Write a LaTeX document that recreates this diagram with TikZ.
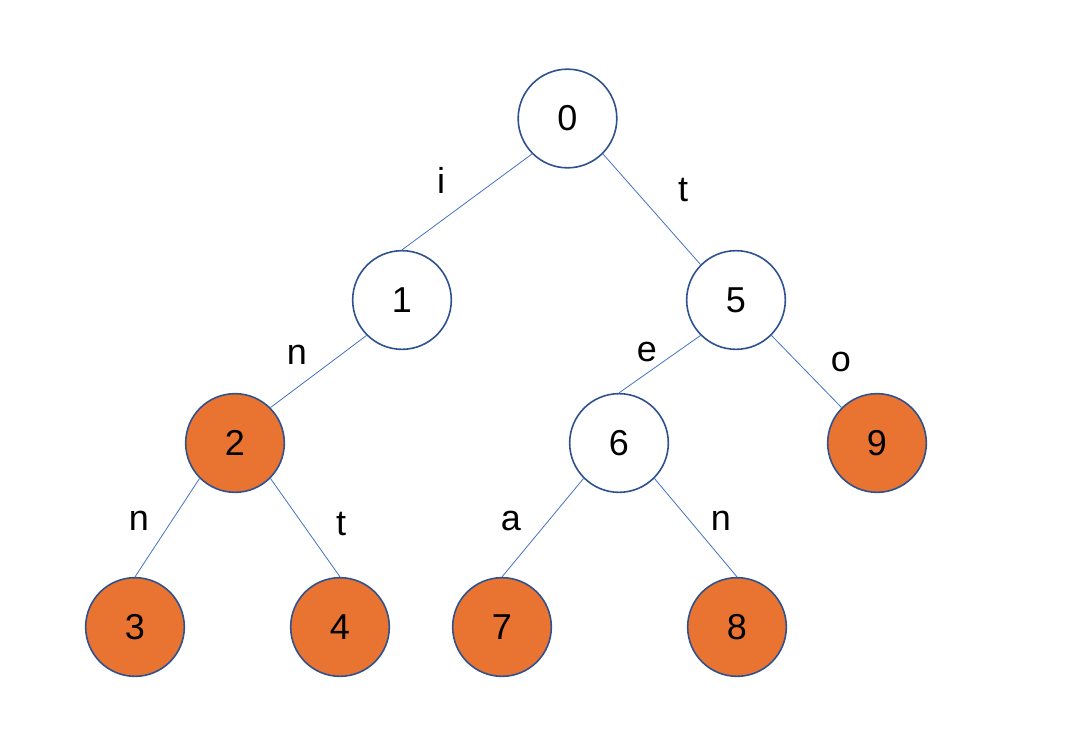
\documentclass[tikz,border=0pt]{standalone}
\usepackage{fontspec}
\setmainfont{Liberation Sans}
\definecolor{ringblue}{HTML}{2F528F}
\definecolor{edgeblue}{HTML}{4472C4}
\definecolor{leaforange}{HTML}{E97331}
\begin{document}
\begin{tikzpicture}[x=0.75pt,y=-0.75pt,
  tnode/.style={circle,draw=ringblue,line width=1.2pt,minimum size=74pt,inner sep=0pt,fill=white,font=\fontsize{27}{32}\selectfont},
  leaf/.style={tnode,fill=leaforange},
  tedge/.style={draw=edgeblue,line width=0.6pt},
  lbl/.style={font=\fontsize{27}{32}\selectfont,inner sep=0pt}]
\useasboundingbox (0,0) rectangle (1076,747);
\node[tnode] (n0) at (567.5,118.5) {0};
\node[tnode] (n1) at (402,300) {1};
\node[tnode] (n5) at (736,300) {5};
\node[leaf] (n2) at (235,443) {2};
\node[tnode] (n6) at (619,443) {6};
\node[leaf] (n9) at (877,443) {9};
\node[leaf] (n3) at (135,627) {3};
\node[leaf] (n4) at (340,627) {4};
\node[leaf] (n7) at (502,627) {7};
\node[leaf] (n8) at (737,627) {8};
\draw[tedge] (n0.south west) -- (n1.north);
\draw[tedge] (n0.south east) -- (n5.north west);
\draw[tedge] (n1.south west) -- (n2.north east);
\draw[tedge] (n5.south west) -- (n6.north);
\draw[tedge] (n5.south east) -- (n9.north west);
\draw[tedge] (n2.south west) -- (n3.north);
\draw[tedge] (n2.south east) -- (n4.north);
\draw[tedge] (n6.south west) -- (n7.north);
\draw[tedge] (n6.south east) -- (n8.north);
\node[lbl] (li) at (441,180) {i};
\node[lbl] (lt1) at (683,190) {t};
\node[lbl] (ln1) at (297,355) {n};
\node[lbl] (le) at (647,352) {e};
\node[lbl] (lo) at (841,362) {o};
\node[lbl] (ln2) at (139,521) {n};
\node[lbl] (lt2) at (341,524) {t};
\node[lbl] (la) at (511,521) {a};
\node[lbl] (ln3) at (721,521) {n};
\end{tikzpicture}
\end{document}
